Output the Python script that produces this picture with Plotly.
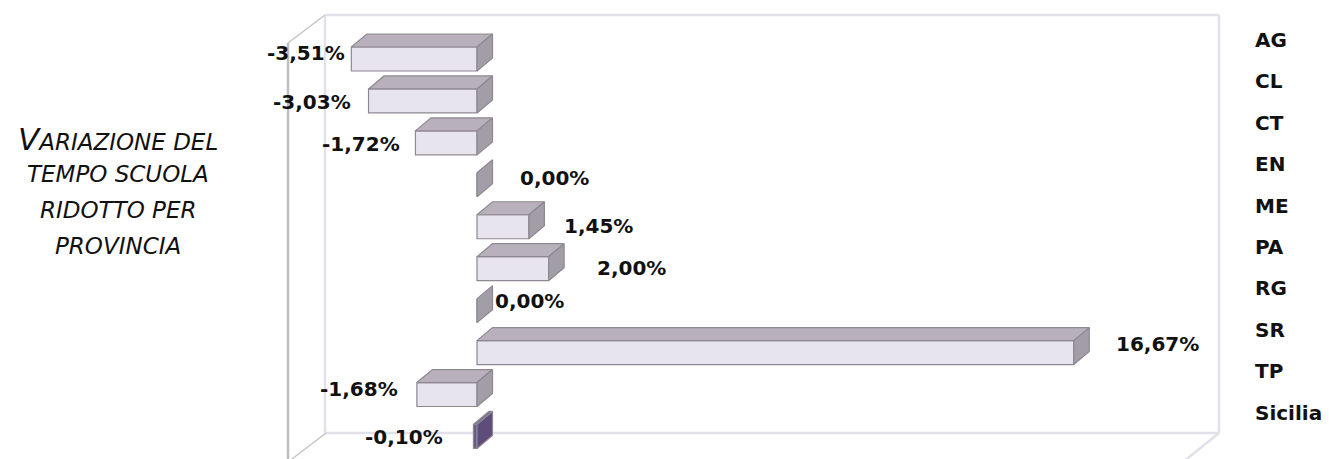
import plotly.graph_objects as go

# ---------------- data ----------------
categories = ["AG", "CL", "CT", "EN", "ME", "PA", "RG", "SR", "TP", "Sicilia"]
values = [-3.51, -3.03, -1.72, 0.00, 1.45, 2.00, 0.00, 16.67, -1.68, -0.10]

# ---------------- styling / layout helpers ----------------
W, H = 1329, 459
OFF = 8                # page body margin offset
ZERO_PX = 477.0 - OFF  # pixel of x = 0 (figure coordinates)
PX_PER_UNIT = 35.8     # pixels per percentage point
Y0_PX = 59.0 - OFF     # pixel of first category centre
Y_STEP = 41.94         # pixels between categories
BAR_W = 0.572          # bar thickness (category units)
DEPTH_X = 15.5 / PX_PER_UNIT   # 3D depth in x data units
DEPTH_Y = 13.0 / Y_STEP        # 3D depth in category units

# per-label offsets (pixels): gap from bar end, and lift
label_gap = [4, 16, 13, 41, 33, 46, 16, 40, 17, 28]
label_lift = [6, -1, -1, 7, 1, 1, 10, 9, 6, -1]

FRONT = "#E8E4EE"
TOP = "#B8B0BB"
SIDE = "#A39DA7"
EDGE = "#8E8893"
SIC_FRONT = "#6A5A86"
SIC_TOP = "#7C6C96"
SIC_SIDE = "#5E4C7B"

idx = list(range(len(categories)))

x_range = [-ZERO_PX / PX_PER_UNIT, (W - ZERO_PX) / PX_PER_UNIT]
y_range = [(H - Y0_PX) / Y_STEP, -Y0_PX / Y_STEP]  # reversed

fig = go.Figure()

front_colors = [SIC_FRONT if c == "Sicilia" else FRONT for c in categories]
fig.add_trace(go.Bar(
    x=values, y=idx, orientation="h", width=BAR_W, base=0,
    marker=dict(color=front_colors, line=dict(color=EDGE, width=1.2)),
    hoverinfo="skip", showlegend=False,
))

# top and side faces built from the data values
def faces(sel):
    tx, ty, sx, sy = [], [], [], []
    for i, v in zip(idx, values):
        if not sel(categories[i]):
            continue
        a, b = min(0, v), max(0, v)
        yt = i - BAR_W / 2
        yb = i + BAR_W / 2
        if b - a > 0:
            tx += [a, b, b + DEPTH_X, a + DEPTH_X, a, None]
            ty += [yt, yt, yt - DEPTH_Y, yt - DEPTH_Y, yt, None]
        sx += [b, b, b + DEPTH_X, b + DEPTH_X, b, None]
        sy += [yt, yb, yb - DEPTH_Y, yt - DEPTH_Y, yt, None]
    return tx, ty, sx, sy

for sel, ctop, cside in [(lambda c: c != "Sicilia", TOP, SIDE),
                         (lambda c: c == "Sicilia", SIC_TOP, SIC_SIDE)]:
    tx, ty, sx, sy = faces(sel)
    if tx:
        fig.add_trace(go.Scatter(x=tx, y=ty, mode="lines", fill="toself",
                                 fillcolor=ctop, line=dict(color=EDGE, width=1.2),
                                 hoverinfo="skip", showlegend=False))
    fig.add_trace(go.Scatter(x=sx, y=sy, mode="lines", fill="toself",
                             fillcolor=cside, line=dict(color=EDGE, width=1.2),
                             hoverinfo="skip", showlegend=False))

# invisible trace to carry the category axis on the right
fig.add_trace(go.Scatter(x=[0] * len(idx), y=idx, yaxis="y2", mode="markers",
                         marker=dict(opacity=0), hoverinfo="skip", showlegend=False))

# value labels
annotations = []
for i, v in enumerate(values):
    txt = "<b>" + f"{v:.2f}".replace(".", ",") + "%</b>"
    neg = v < 0
    annotations.append(dict(x=v, y=i, xref="x", yref="y", text=txt, showarrow=False,
                            xanchor="right" if neg else "left", yanchor="middle",
                            xshift=-label_gap[i] if neg else label_gap[i],
                            yshift=label_lift[i],
                            font=dict(family="DejaVu Sans", size=20, color="#111111")))

# left title, one line per annotation
title_lines = ["<span style='font-size:31px'>V</span>ARIAZIONE DEL",
               "TEMPO SCUOLA", "RIDOTTO PER", "PROVINCIA"]
title_y_px = [139, 174, 210, 246]


def P(x, y):
    return (x - OFF) / W, 1 - (y - OFF) / H


for t, ypx in zip(title_lines, title_y_px):
    px, py = P(118, ypx)
    annotations.append(dict(x=px, y=py, xref="paper", yref="paper",
                            text=t, showarrow=False, xanchor="center", yanchor="middle",
                            font=dict(family="DejaVu Sans", size=23, color="#111111",
                                      style="italic")))


def line(p0, p1, color, width):
    x0, y0 = P(*p0)
    x1, y1 = P(*p1)
    return dict(type="line", xref="paper", yref="paper", x0=x0, y0=y0, x1=x1, y1=y1,
                line=dict(color=color, width=width), layer="below")


WALL = "#E4E0EA"
GRAYL = "#C4C4C4"
shapes = [
    line((325, 15), (1219, 15), WALL, 2.5),
    line((1219, 15), (1219, 433), WALL, 2.5),
    line((325, 433), (1219, 433), WALL, 2.5),
    line((325, 15), (325, 433), WALL, 2.5),
    line((325, 15), (288, 43), GRAYL, 1.5),
    line((288, 43), (288, 462), "#BDBDBD", 2.5),
    line((326, 433), (288, 462), GRAYL, 1.5),
    line((1219, 433), (1183, 462), WALL, 2.5),
]

# right-hand category axis: pixel = 40 + 41.4 * i (page coordinates)
Y2_0 = 40 - OFF
y2_range = [(H - Y2_0) / 41.4, -Y2_0 / 41.4]

fig.update_layout(
    width=W, height=H,
    margin=dict(l=0, r=0, t=0, b=0),
    paper_bgcolor="white", plot_bgcolor="rgba(0,0,0,0)",
    barmode="overlay",
    xaxis=dict(range=x_range, visible=False, fixedrange=True),
    yaxis=dict(range=y_range, visible=False, fixedrange=True),
    yaxis2=dict(range=y2_range, overlaying="y", anchor="free", side="right",
                position=(1254 - OFF) / W, tickvals=idx, ticktext=categories,
                showgrid=False, zeroline=False, showline=False, ticks="",
                tickfont=dict(family="DejaVu Sans", size=20, color="#111111", weight="bold"),
                fixedrange=True),
    annotations=annotations,
    shapes=shapes,
    showlegend=False,
)

fig.write_html("out.html")
